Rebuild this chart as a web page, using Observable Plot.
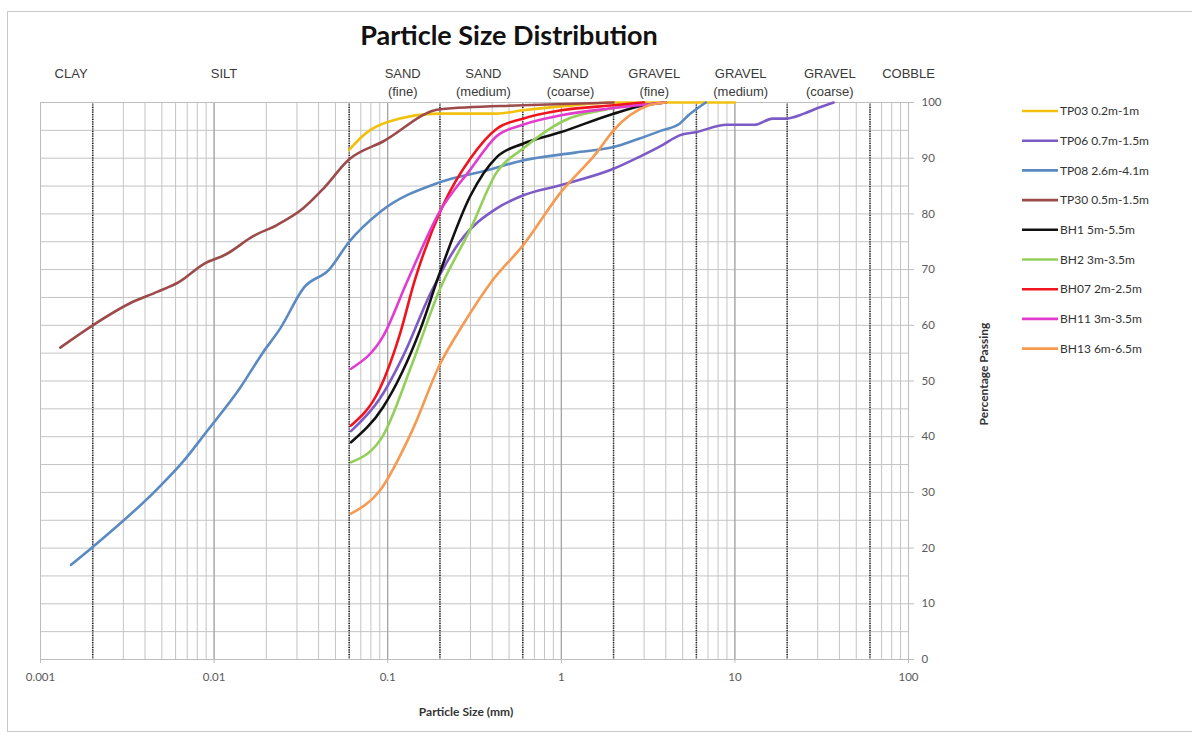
<!DOCTYPE html>
<html>
<head>
<meta charset="utf-8">
<script src="https://cdn.jsdelivr.net/npm/d3@7"></script>
<script src="https://cdn.jsdelivr.net/npm/@observablehq/plot@0.6"></script>
<style>
  html, body { margin: 0; padding: 0; background: #fff; }
  #chart { position: relative; width: 1192px; height: 735px; }
  #border { position: absolute; left: 7px; top: 11px; width: 1190px; height: 721px; border: 1px solid #c8c8c8; box-sizing: border-box; pointer-events: none; }
</style>
</head>
<body>
<div id="chart"><div id="border"></div></div>
<script>
// ---- Data (particle size in mm, percentage passing) ----
const seriesNames = ["TP03 0.2m-1m","TP06 0.7m-1.5m","TP08 2.6m-4.1m","TP30 0.5m-1.5m","BH1 5m-5.5m","BH2 3m-3.5m","BH07 2m-2.5m","BH11 3m-3.5m","BH13 6m-6.5m"];
const seriesColors = ["#f2c10f","#7d5bc6","#5b89c2","#9c4b4a","#111111","#93cf5a","#f0141e","#e23bd0","#f59a50"];

const TP03 = [[0.06,91.5],[0.075,94.5],[0.1,96.5],[0.2,98],[0.425,98],[0.6,98.6],[1,99.3],[2,100],[10,100]];
const TP06 = [[0.0615,41],[0.09,46.8],[0.125,55],[0.175,65.5],[0.26,75],[0.425,81],[0.6,83.3],[1,85.2],[2,88.1],[2.8,90.2],[3.8,92.3],[4.8,94.1],[6,94.7],[9,96],[13,96],[16.5,97.1],[19.5,97.1],[25,98],[30,99],[37,100]];
const TP08 = [[0.0015,17],[0.002,20.2],[0.0047,30.6],[0.0067,35.7],[0.009,40.8],[0.014,48.6],[0.019,55],[0.024,59.4],[0.033,66.8],[0.046,70],[0.06,75],[0.09,80.3],[0.2,85.7],[0.37,87.8],[0.6,89.6],[1.2,91],[2,92],[2.8,93.5],[3.8,95],[4.8,96.2],[5.4,97.7],[6.8,100]];
const TP30 = [[0.0013,56],[0.002,60],[0.0033,64],[0.0047,66],[0.0063,67.8],[0.0087,71],[0.0118,72.8],[0.0168,76],[0.023,78],[0.0326,81],[0.0425,84.5],[0.06,89.8],[0.094,93],[0.2,98.8],[0.6,99.5],[2,100]];
const BH1  = [[0.0615,39],[0.094,45.3],[0.153,59],[0.2,69.5],[0.3,83.3],[0.425,90.2],[0.6,92.6],[1,94.7],[2,98],[3,99.5],[4,100]];
const BH2  = [[0.0615,35.4],[0.094,40.2],[0.138,53],[0.2,66.5],[0.3,77.3],[0.425,87.5],[0.6,91.7],[1,96.5],[2,99],[3,100]];
const BH07 = [[0.0615,42],[0.09,48.6],[0.117,58.2],[0.143,68],[0.208,81.5],[0.3,90],[0.425,95.3],[0.6,97.1],[1,98.6],[2,99.5],[3,100]];
const BH11 = [[0.0615,52.2],[0.094,58],[0.13,68],[0.2,80.5],[0.3,88],[0.425,94],[0.6,96],[1,97.7],[2,99],[4,100]];
const BH13 = [[0.0615,26.2],[0.09,30.3],[0.138,41],[0.2,53],[0.27,60],[0.4,68],[0.6,74.3],[1,84],[1.6,91],[2,95],[3.2,99.5],[4,100]];
const seriesPoints = [TP03, TP06, TP08, TP30, BH1, BH2, BH07, BH11, BH13];

// Soil classification
const classBoundaries = [0.002, 0.06, 0.2, 0.6, 2, 6, 20, 60];
const classTop = ["CLAY","SILT","SAND","SAND","SAND","GRAVEL","GRAVEL","GRAVEL","COBBLE"];
const classSub = ["","","(fine)","(medium)","(coarse)","(fine)","(medium)","(coarse)",""];
const classAt  = [0.0015, 0.0114, 0.122, 0.356, 1.13, 3.43, 10.8, 35.2, 100];

// Axes
const xTicks = [0.001, 0.01, 0.1, 1, 10, 100];
const xTickLabels = ["0.001", "0.01", "0.1", "1", "10", "100"];
const yTicks = [0, 10, 20, 30, 40, 50, 60, 70, 80, 90, 100];
const title = "Particle Size Distribution";
const xLabel = "Particle Size (mm)";
const yLabel = "Percentage Passing";

// ---- Build table ----
const table = [];
seriesPoints.forEach((pts, i) => pts.forEach(([s, p]) => table.push({series: seriesNames[i], size: s, pass: p})));

// grid line positions (1..9 per decade)
const minorX = [];
for (let e = -3; e < 2; e++) for (let m = 1; m < 10; m++) minorX.push(m * Math.pow(10, e));
minorX.push(100);
const decadeX = xTicks;
const gridY = d3.range(0, 101, 5);

const svg = Plot.plot({
  width: 1192,
  height: 735,
  marginLeft: 40,
  marginRight: 284,
  marginTop: 102,
  marginBottom: 76,
  style: {fontFamily: "Lato, 'Open Sans', sans-serif", fontSize: "11px", color: "#595959", background: "transparent"},
  x: {type: "log", domain: [0.001, 100]},
  y: {domain: [0, 100]},
  color: {domain: seriesNames, range: seriesColors},
  marks: [
    Plot.ruleY(gridY, {stroke: "#c4c4c4", strokeWidth: 1}),
    Plot.ruleX(minorX, {stroke: "#c4c4c4", strokeWidth: 1}),
    Plot.ruleX(decadeX, {stroke: "#9a9a9a", strokeWidth: 1}),
    Plot.ruleX(classBoundaries, {stroke: "#222", strokeWidth: 1.6, strokeDasharray: "1.2,1.2"}),
    Plot.frame({stroke: "#bdbdbd"}),
    Plot.axisX({ticks: xTicks, tickFormat: (d) => xTickLabels[xTicks.indexOf(d)], tickSize: 4, tickPadding: 9, fontSize: 11.5, label: null, stroke: "#bdbdbd"}),
    Plot.axisY({anchor: "right", ticks: yTicks, tickSize: 5, tickPadding: 8, fontSize: 11.5, label: null, stroke: "#bdbdbd"}),
    Plot.line(table, {x: "size", y: "pass", z: "series", stroke: "series", strokeWidth: 2.6, curve: "monotone-x", strokeLinejoin: "round"}),
    Plot.text(classTop, {x: classAt, y: 100, text: d => d, dy: -29, fontSize: 13, fontFamily: "'Liberation Sans', Arial, sans-serif", fill: "#3a3a3a"}),
    Plot.text(classSub, {x: classAt, y: 100, text: d => d, dy: -11, fontSize: 13, fontFamily: "'Liberation Sans', Arial, sans-serif", fill: "#3a3a3a"})
  ]
});

const s = d3.select(svg);
s.append("text")
  .attr("x", 509).attr("y", 45)
  .attr("text-anchor", "middle")
  .style("font-family", "Lato, 'Open Sans', sans-serif")
  .style("font-weight", "bold")
  .style("font-size", "27px")
  .attr("fill", "#111")
  .text(title);

s.append("text")
  .attr("x", 466).attr("y", 716)
  .attr("text-anchor", "middle")
  .style("font-family", "Lato, 'Open Sans', sans-serif")
  .style("font-weight", "bold")
  .style("font-size", "12px")
  .attr("fill", "#333")
  .text(xLabel);

s.append("text")
  .attr("transform", "translate(988,374) rotate(-90)")
  .attr("text-anchor", "middle")
  .style("font-family", "Lato, 'Open Sans', sans-serif")
  .style("font-weight", "bold")
  .style("font-size", "12px")
  .attr("fill", "#333")
  .text(yLabel);

const lg = s.append("g").attr("text-anchor", "start");
seriesNames.forEach((name, i) => {
  const y = 111 + i * 29.7;
  lg.append("line").attr("x1", 1022).attr("x2", 1058).attr("y1", y).attr("y2", y)
    .attr("stroke", seriesColors[i]).attr("stroke-width", 2.6);
  lg.append("text").attr("x", 1060).attr("y", y).attr("dy", "0.35em")
    .attr("text-anchor", "start")
    .style("font-family", "Lato, 'Open Sans', sans-serif").style("font-size", "12px")
    .attr("fill", "#333").text(name);
});

document.getElementById("chart").prepend(svg);
</script>
</body>
</html>
